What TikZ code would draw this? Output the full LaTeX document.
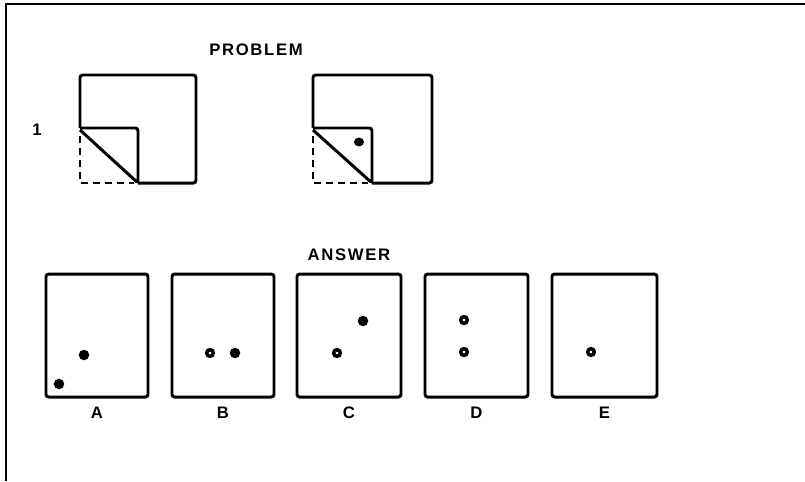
\documentclass[tikz,border=0pt]{standalone}
\usepackage{fontspec}
\setsansfont{Liberation Sans}[LetterSpace=10]
\usetikzlibrary{positioning}

\begin{document}
\begin{tikzpicture}[x=0.02cm, y=-0.02cm,
        sheet/.style={line width=1.7pt, rounded corners=1.5pt},
        foldline/.style={line width=1.5pt, dash pattern=on 4pt off 2.8pt},
        hole/.style={fill=black, draw=black, line width=0.8pt},
        ring/.style={draw=black, line width=2pt, fill=white},
        lbl/.style={font=\sffamily\bfseries\fontsize{9.5}{11}\selectfont}]
        \useasboundingbox (0,0) rectangle (805,481);
        % frame
        \draw[line width=1.1pt] (805,4) -- (6,4) -- (6,481);
        % headings
        \node[lbl] (problem) at (256,50) {PROBLEM};
        \node[lbl] (answer) at (349,255) {ANSWER};
        \node[lbl] (num) at (37,130) {1};
        % folded sheet, step 1
        \draw[sheet] (80,128) -- (80,75) -- (196,75) -- (196,183) -- (138,183);
        \draw[sheet] (80,128) -- (138,128) -- (138,183) -- (80,130);
        \draw[foldline] (80,136) -- (80,183) -- (134,183);
        % folded sheet, step 2 (punched)
        \draw[sheet] (313,128) -- (313,75) -- (432,75) -- (432,183) -- (372,183);
        \draw[sheet] (313,128) -- (372,128) -- (372,183) -- (313,130);
        \draw[foldline] (313,136) -- (313,183) -- (368,183);
        \fill (359,142) ellipse [x radius=5, y radius=4.5];
        % answer sheets
        \foreach \xa/\xb/\name in {46/148/A, 172/274/B, 297/401/C, 425/528/D, 552/657/E} {
            \draw[sheet] (\xa,274) rectangle (\xb,397);
            \node[lbl] (lab\name) at ({(\xa+\xb)/2},413) {\name};
        }
        % holes
        \draw[hole] (84,355) circle [radius=4.5];
        \draw[hole] (59,384) circle [radius=4.5];
        \draw[ring] (210,353) circle [radius=3.3];
        \draw[hole] (235,353) circle [radius=4.5];
        \draw[ring] (337,353) circle [radius=3.3];
        \draw[hole] (363,321) circle [radius=4.5];
        \draw[ring] (464,320) circle [radius=3.3];
        \draw[ring] (464,352) circle [radius=3.3];
        \draw[ring] (591,352) circle [radius=3.3];
    \end{tikzpicture}
\end{document}
